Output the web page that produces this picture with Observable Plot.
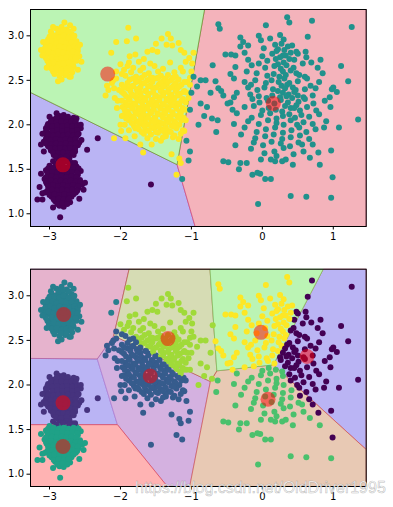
<!DOCTYPE html>
<html>
<head>
<meta charset="utf-8">
<script src="https://cdn.jsdelivr.net/npm/d3@7"></script>
<script src="https://cdn.jsdelivr.net/npm/@observablehq/plot@0.6"></script>
<style>
  html, body { margin: 0; padding: 0; background: white; }
  #wrap { position: relative; width: 393px; height: 507px; overflow: hidden; }
  #wrap svg { display: block; }
  #wm { position: absolute; left: 0; top: 0; pointer-events: none; }
</style>
</head>
<body>
<div id="wrap"></div>
<script>
// ---------- data ----------
const xTicks = [-3, -2, -1, 0, 1];
const yTicks = [1.0, 1.5, 2.0, 2.5, 3.0];
const xDomain = [-3.268, 1.464];

const yellowLeftBlob = [
[-2.9,3.08],[-2.83,3.1],[-2.76,3.07],[-2.79,3.15],[-2.71,3.12],[-2.66,3.08],[-2.98,3.05],
[-2.97,3.02],[-2.9,3.01],[-2.84,3.03],[-2.77,3.0],[-2.69,3.02],
[-3.02,2.96],[-2.95,2.97],[-2.88,2.95],[-2.81,2.97],[-2.74,2.95],[-2.67,2.96],[-2.62,2.94],
[-3.05,2.9],[-2.98,2.91],[-2.91,2.89],[-2.84,2.91],[-2.77,2.9],[-2.7,2.89],[-2.63,2.9],
[-3.08,2.84],[-3.0,2.85],[-2.93,2.83],[-2.86,2.85],[-2.79,2.84],[-2.72,2.83],[-2.65,2.85],[-2.6,2.83],
[-3.06,2.78],[-2.99,2.79],[-2.92,2.77],[-2.85,2.79],[-2.78,2.78],[-2.71,2.77],[-2.64,2.79],[-2.58,2.77],
[-3.03,2.72],[-2.96,2.73],[-2.89,2.71],[-2.82,2.72],[-2.75,2.73],[-2.68,2.71],[-2.62,2.72],
[-3.0,2.66],[-2.93,2.67],[-2.86,2.65],[-2.79,2.66],[-2.72,2.67],[-2.66,2.65],
[-2.95,2.6],[-2.88,2.61],[-2.81,2.6],[-2.74,2.61],[-2.68,2.59],
[-2.86,2.55],[-2.78,2.56],[-2.72,2.54],
[-2.87,3.05],[-2.8,3.06],[-2.73,3.05],
[-3.0,2.99],[-2.93,2.99],[-2.86,2.98],[-2.8,3.0],[-2.73,2.98],[-2.66,2.99],
[-3.04,2.93],[-2.96,2.94],[-2.9,2.92],[-2.83,2.94],[-2.76,2.92],[-2.69,2.93],[-2.62,2.91],
[-3.06,2.87],[-2.99,2.88],[-2.93,2.86],[-2.86,2.88],[-2.79,2.87],[-2.72,2.86],[-2.65,2.88],[-2.6,2.87],
[-3.07,2.81],[-3.01,2.82],[-2.95,2.8],[-2.88,2.82],[-2.81,2.81],[-2.74,2.8],[-2.67,2.82],[-2.61,2.8],
[-3.05,2.75],[-2.97,2.76],[-2.9,2.74],[-2.83,2.75],[-2.76,2.76],[-2.69,2.74],[-2.63,2.75],
[-3.01,2.69],[-2.94,2.7],[-2.87,2.68],[-2.8,2.69],[-2.73,2.7],[-2.67,2.68],
[-2.97,2.63],[-2.9,2.64],[-2.83,2.62],[-2.76,2.63],[-2.7,2.62],
[-2.84,2.58],[-2.76,2.58],
[-2.83,2.51],[-2.88,2.49],[-2.55,2.71],[-3.12,2.84],[-3.04,2.64],[-2.6,2.62],[-3.1,2.78],
[-2.7,2.54],[-2.93,2.57],[-2.57,2.9],[-3.09,2.93],[-2.95,3.1],[-2.65,3.0]
];

const purpleUpperBlob = [
[-2.86,2.1],[-2.8,2.11],[-2.9,2.13],
[-2.95,2.06],[-2.86,2.05],[-2.78,2.07],[-2.7,2.05],[-2.62,2.07],[-3.0,2.09],
[-3.02,2.01],[-2.94,2.02],[-2.87,2.0],[-2.8,2.02],[-2.73,2.0],[-2.66,2.01],
[-3.05,1.96],[-2.98,1.97],[-2.91,1.95],[-2.84,1.97],[-2.77,1.96],[-2.7,1.95],[-2.63,1.97],[-2.56,1.96],
[-3.06,1.91],[-2.99,1.9],[-2.92,1.92],[-2.85,1.9],[-2.78,1.91],[-2.71,1.9],[-2.64,1.92],[-2.59,1.9],
[-3.04,1.86],[-2.97,1.85],[-2.9,1.87],[-2.83,1.85],[-2.76,1.86],[-2.69,1.85],[-2.62,1.87],
[-3.08,1.81],[-3.0,1.8],[-2.93,1.82],[-2.86,1.8],[-2.79,1.81],[-2.72,1.8],[-2.65,1.82],[-2.58,1.8],
[-3.02,1.76],[-2.95,1.75],[-2.88,1.77],[-2.81,1.75],[-2.74,1.76],[-2.67,1.75],[-2.6,1.77],
[-2.98,1.71],[-2.91,1.7],[-2.84,1.72],[-2.77,1.7],[-2.7,1.71],[-2.64,1.7],
[-2.94,1.66],[-2.87,1.65],[-2.8,1.67],[-2.73,1.65],[-2.66,1.66],
[-2.88,1.62],[-2.8,1.61],[-2.72,1.62],
[-2.9,2.08],[-2.82,2.08],[-2.74,2.09],[-2.66,2.08],
[-2.98,2.04],[-2.9,2.03],[-2.83,2.04],[-2.76,2.03],[-2.69,2.04],[-2.63,2.03],
[-3.03,1.99],[-2.96,1.98],[-2.89,1.99],[-2.82,1.98],[-2.75,1.99],[-2.68,1.98],[-2.61,1.99],
[-3.04,1.94],[-2.96,1.93],[-2.89,1.94],[-2.82,1.93],[-2.75,1.94],[-2.68,1.93],[-2.61,1.94],
[-3.02,1.89],[-2.95,1.88],[-2.88,1.89],[-2.81,1.88],[-2.74,1.89],[-2.67,1.88],[-2.6,1.89],
[-3.05,1.84],[-2.98,1.83],[-2.91,1.84],[-2.84,1.83],[-2.77,1.84],[-2.7,1.83],[-2.63,1.84],
[-3.05,1.79],[-2.98,1.78],[-2.91,1.79],[-2.84,1.78],[-2.77,1.79],[-2.7,1.78],[-2.63,1.79],
[-2.99,1.74],[-2.92,1.73],[-2.85,1.74],[-2.78,1.73],[-2.71,1.74],[-2.64,1.73],
[-2.95,1.69],[-2.88,1.68],[-2.81,1.69],[-2.74,1.68],[-2.67,1.69],
[-2.91,1.64],[-2.84,1.63],[-2.76,1.64],
[-2.32,1.85],[-2.47,1.72],[-2.56,2.0],[-3.1,1.9],[-3.12,1.78],[-2.55,1.83],[-3.08,1.7]
];

const purpleLowerBlob = [
[-2.95,1.59],[-2.85,1.58],[-2.76,1.59],[-2.68,1.57],
[-3.0,1.54],[-2.92,1.53],[-2.84,1.54],[-2.77,1.52],[-2.7,1.54],[-2.62,1.53],
[-3.05,1.49],[-2.97,1.48],[-2.9,1.5],[-2.83,1.48],[-2.76,1.49],[-2.69,1.47],[-2.62,1.49],[-2.56,1.48],
[-3.02,1.44],[-2.95,1.43],[-2.88,1.45],[-2.81,1.43],[-2.74,1.44],[-2.67,1.42],[-2.6,1.44],
[-3.07,1.39],[-3.0,1.38],[-2.93,1.4],[-2.86,1.38],[-2.79,1.39],[-2.72,1.37],[-2.65,1.39],[-2.57,1.38],
[-3.04,1.34],[-2.97,1.33],[-2.9,1.35],[-2.83,1.33],[-2.76,1.34],[-2.69,1.32],[-2.62,1.34],[-2.54,1.33],
[-3.01,1.29],[-2.94,1.28],[-2.87,1.3],[-2.8,1.28],[-2.73,1.29],[-2.66,1.27],[-2.59,1.29],
[-3.06,1.24],[-2.98,1.23],[-2.91,1.25],[-2.84,1.23],[-2.77,1.24],[-2.7,1.22],[-2.63,1.24],
[-2.97,1.19],[-2.9,1.18],[-2.83,1.2],[-2.76,1.18],[-2.69,1.19],
[-2.92,1.14],[-2.85,1.13],[-2.78,1.15],[-2.71,1.13],
[-2.86,1.09],[-2.8,1.08],
[-2.9,1.56],[-2.81,1.57],[-2.72,1.56],[-2.64,1.57],
[-3.02,1.51],[-2.94,1.52],[-2.87,1.51],[-2.8,1.52],[-2.73,1.51],[-2.66,1.52],[-2.59,1.51],
[-3.03,1.46],[-2.96,1.47],[-2.89,1.46],[-2.82,1.47],[-2.75,1.46],[-2.68,1.47],[-2.61,1.46],
[-3.05,1.41],[-2.97,1.42],[-2.9,1.41],[-2.83,1.42],[-2.76,1.41],[-2.69,1.42],[-2.62,1.41],
[-3.05,1.36],[-2.98,1.37],[-2.91,1.36],[-2.84,1.37],[-2.77,1.36],[-2.7,1.37],[-2.63,1.36],[-2.57,1.36],
[-3.02,1.31],[-2.95,1.32],[-2.88,1.31],[-2.81,1.32],[-2.74,1.31],[-2.67,1.32],[-2.6,1.31],
[-3.03,1.26],[-2.96,1.27],[-2.89,1.26],[-2.82,1.27],[-2.75,1.26],[-2.68,1.27],[-2.61,1.26],
[-3.0,1.21],[-2.93,1.22],[-2.86,1.21],[-2.79,1.22],[-2.72,1.21],[-2.66,1.22],
[-2.94,1.16],[-2.87,1.17],[-2.8,1.16],[-2.73,1.17],
[-2.89,1.11],[-2.82,1.12],[-2.75,1.11],
[-3.17,1.16],[-3.1,1.16],[-3.1,1.23],[-2.85,0.96],[-2.5,1.35],[-2.52,1.27],[-3.12,1.45],
[-2.58,1.17],[-2.95,1.07],[-1.57,1.33],[-3.14,1.3]
];

const yellowMainCloud = [
[-1.89,3.09],[-2.06,2.93],[-1.91,2.94],[-1.78,2.97],[-2.13,2.81],[-1.33,3.02],[-1.5,2.91],
[-1.35,2.9],[-1.18,2.92],[-1.62,2.82],[-1.55,2.84],[-1.48,2.82],[-1.79,2.79],[-1.87,2.77],
[-1.67,2.74],[-1.88,2.7],[-1.1,2.81],[-0.97,2.81],[-2.0,2.68],[-1.95,2.62],[-1.98,2.57],
[-1.82,2.64],[-2.19,2.44],[-2.17,2.39],[-2.21,2.33],[-2.09,2.41],[-2.04,2.27],[-2.05,2.19],
[-2.09,1.85],[-1.93,1.85],[-1.8,1.87],[-1.88,1.94],[-1.79,1.96],[-1.72,1.78],[-1.68,1.69],
[-1.56,1.78],[-1.43,1.82],[-1.36,1.87],[-1.26,1.86],[-1.28,1.67],[-1.15,1.57],[-1.21,1.44],
[-1.17,1.62],[-1.42,2.97],[-1.29,2.97],[-1.27,2.89],[-1.15,2.84],[-1.03,2.75],[-0.99,2.69],
[-1.0,2.6],[-1.02,2.45],[-1.04,2.3],[-1.08,2.05],[-1.1,1.93],[-2.12,2.47],[-2.06,2.52],
[-2.0,2.0],[-1.95,2.11],[-1.99,1.93],
[-1.74,2.71],[-1.58,2.69],[-1.3,2.7],[-1.08,2.71],
[-1.9,2.66],[-1.68,2.64],[-1.52,2.66],[-1.4,2.63],[-1.15,2.64],
[-2.06,2.6],[-1.85,2.59],[-1.72,2.61],[-1.6,2.58],[-1.47,2.6],[-1.24,2.59],[-1.12,2.6],
[-1.93,2.55],[-1.78,2.54],[-1.66,2.56],[-1.55,2.53],[-1.43,2.55],[-1.33,2.56],[-1.22,2.54],[-1.02,2.53],
[-2.1,2.5],[-1.87,2.51],[-1.74,2.49],[-1.62,2.5],[-1.5,2.52],[-1.4,2.49],[-1.29,2.5],[-1.18,2.51],[-1.06,2.48],
[-1.98,2.45],[-1.82,2.44],[-1.7,2.46],[-1.58,2.44],[-1.46,2.45],[-1.35,2.46],[-1.25,2.44],[-1.14,2.45],
[-2.02,2.39],[-1.9,2.41],[-1.77,2.4],[-1.65,2.38],[-1.54,2.41],[-1.43,2.39],[-1.32,2.4],[-1.2,2.41],[-1.1,2.38],
[-1.95,2.35],[-1.84,2.34],[-1.72,2.36],[-1.6,2.35],[-1.5,2.33],[-1.39,2.36],[-1.28,2.34],[-1.16,2.35],[-1.06,2.36],
[-2.08,2.3],[-1.88,2.29],[-1.78,2.31],[-1.67,2.3],[-1.56,2.28],[-1.45,2.31],[-1.35,2.29],[-1.24,2.3],[-1.12,2.29],
[-1.93,2.25],[-1.82,2.24],[-1.7,2.26],[-1.6,2.24],[-1.5,2.25],[-1.41,2.23],[-1.3,2.26],[-1.2,2.24],[-1.08,2.25],
[-1.97,2.2],[-1.86,2.21],[-1.75,2.19],[-1.64,2.2],[-1.54,2.21],[-1.44,2.19],[-1.34,2.2],[-1.23,2.21],[-1.12,2.19],
[-1.9,2.15],[-1.79,2.14],[-1.68,2.16],[-1.58,2.15],[-1.48,2.13],[-1.38,2.16],[-1.27,2.14],[-1.16,2.15],[-1.07,2.17],
[-1.98,2.1],[-1.84,2.09],[-1.73,2.11],[-1.62,2.1],[-1.52,2.08],[-1.42,2.11],[-1.31,2.09],[-1.2,2.1],[-1.11,2.08],
[-1.88,2.05],[-1.77,2.04],[-1.66,2.06],[-1.56,2.05],[-1.46,2.03],[-1.35,2.06],[-1.24,2.04],[-1.14,2.05],
[-1.94,2.0],[-1.81,1.99],[-1.7,2.01],[-1.6,2.0],[-1.5,1.98],[-1.39,2.01],[-1.28,1.99],[-1.17,2.0],
[-1.74,1.95],[-1.64,1.94],[-1.53,1.96],[-1.43,1.95],[-1.32,1.93],[-1.21,1.96],[-1.12,1.94],
[-1.67,1.9],[-1.57,1.89],[-1.47,1.91],[-1.36,1.9],[-1.24,1.88],[-1.15,1.9],
[-1.62,1.85],[-1.5,1.84],[-1.4,1.86],[-1.18,1.84],
[-1.82,2.52],[-1.7,2.53],[-1.58,2.52],[-1.47,2.53],[-1.37,2.52],[-1.26,2.53],
[-1.9,2.47],[-1.78,2.48],[-1.66,2.47],[-1.55,2.48],[-1.44,2.47],[-1.33,2.48],[-1.22,2.47],[-1.1,2.48],
[-1.95,2.42],[-1.84,2.43],[-1.72,2.42],[-1.61,2.43],[-1.5,2.42],[-1.39,2.43],[-1.28,2.42],[-1.17,2.43],
[-1.98,2.37],[-1.86,2.38],[-1.76,2.37],[-1.64,2.38],[-1.54,2.37],[-1.43,2.38],[-1.33,2.37],[-1.22,2.38],[-1.11,2.37],
[-1.92,2.32],[-1.82,2.33],[-1.71,2.32],[-1.61,2.33],[-1.51,2.32],[-1.4,2.33],[-1.3,2.32],[-1.19,2.33],
[-1.98,2.27],[-1.87,2.28],[-1.76,2.27],[-1.65,2.28],[-1.55,2.27],[-1.45,2.28],[-1.35,2.27],[-1.25,2.28],[-1.14,2.27],
[-1.9,2.22],[-1.79,2.23],[-1.69,2.22],[-1.59,2.23],[-1.49,2.22],[-1.39,2.23],[-1.28,2.22],[-1.17,2.23],
[-1.94,2.17],[-1.83,2.18],[-1.72,2.17],[-1.62,2.18],[-1.53,2.17],[-1.43,2.18],[-1.32,2.17],[-1.21,2.18],[-1.11,2.17],
[-1.88,2.12],[-1.78,2.13],[-1.68,2.12],[-1.57,2.13],[-1.47,2.12],[-1.37,2.13],[-1.26,2.12],[-1.15,2.13],
[-1.92,2.07],[-1.81,2.08],[-1.71,2.07],[-1.61,2.08],[-1.51,2.07],[-1.4,2.08],[-1.29,2.07],[-1.18,2.08],
[-1.84,2.02],[-1.74,2.03],[-1.64,2.02],[-1.53,2.03],[-1.43,2.02],[-1.32,2.03],[-1.22,2.02],
[-1.76,1.97],[-1.66,1.98],[-1.56,1.97],[-1.46,1.98],[-1.36,1.97],[-1.25,1.98],
[-1.7,1.92],[-1.6,1.93],[-1.5,1.92],[-1.4,1.93],[-1.29,1.92]
];

const tealCloud = [
[-0.62,3.13],[-0.6,3.08],[0.05,3.12],[0.35,3.21],[0.38,3.15],[0.7,3.17],[1.26,3.1],[-0.05,3.0],
[0.11,2.97],[0.25,3.01],[0.64,2.99],[-0.31,2.98],[-0.31,2.88],[-0.2,2.89],[-0.27,2.93],
[-0.44,2.79],[-0.38,2.78],[-0.52,2.79],[-0.7,2.67],[-0.87,2.5],[-0.8,2.5],[-0.97,2.54],[-0.92,2.43],
[-1.0,2.36],[-0.87,2.24],[-1.02,2.17],[-0.82,2.1],[-0.71,2.07],[-0.63,2.05],[-0.73,2.36],[-0.58,2.38],
[-0.49,2.24],[-1.07,1.82],[-1.02,1.7],[-1.04,1.6],[-1.13,1.39],[-0.55,1.59],[-0.48,1.58],[-0.33,1.5],
[-0.31,1.57],[-0.22,1.57],[-0.14,1.44],[-0.07,1.46],[-0.03,1.45],[0.04,1.39],[0.12,1.39],[-0.06,1.11],
[0.4,1.2],[0.62,1.19],[0.97,1.18],[0.99,1.41],[0.81,1.55],[0.97,1.71],[1.08,1.97],[1.35,2.06],
[1.21,2.49],[1.11,2.66],[1.05,2.37],[0.98,2.4],[0.82,2.73],[0.69,2.7],[0.48,2.82],[0.61,2.82],
[0.43,1.55],[0.28,1.59],[0.18,1.59],[0.12,1.61],[0.67,1.63],[0.44,1.67],[0.56,1.78],[0.71,1.78],
[0.79,1.69],[0.87,1.97],[0.96,2.2],[-0.78,2.2],[-0.9,2.0],[-0.65,1.92],
[-0.02,2.95],[0.18,2.9],[0.3,2.96],[0.36,2.88],[0.27,2.91],[0.22,2.85],[0.42,2.89],
[-0.25,2.81],[0.02,2.86],[0.14,2.8],[0.2,2.83],[0.31,2.84],[0.5,2.8],[0.29,2.78],[0.4,2.81],[0.25,2.76],
[-0.2,2.73],[0.0,2.77],[0.07,2.72],[0.19,2.74],[0.33,2.78],[0.45,2.73],[0.62,2.76],
[0.3,2.7],[0.38,2.74],[0.22,2.68],[-0.05,2.69],
[-0.38,2.65],[-0.15,2.67],[0.04,2.64],[0.17,2.66],[0.26,2.63],[0.34,2.67],[0.44,2.64],[0.57,2.69],[0.78,2.64],
[0.29,2.6],[0.4,2.61],[0.48,2.58],[-0.22,2.6],
[-0.45,2.57],[-0.08,2.58],[0.07,2.55],[0.16,2.57],[0.24,2.54],[0.33,2.56],[0.52,2.56],[0.6,2.54],[0.85,2.58],
[-0.66,2.49],[-0.4,2.52],[-0.25,2.48],[-0.1,2.5],[0.05,2.47],[0.13,2.5],[0.23,2.48],[0.31,2.52],[0.38,2.47],[0.5,2.49],[0.63,2.52],[0.8,2.48],
[0.27,2.44],[0.35,2.45],[0.43,2.42],[-0.16,2.45],[0.68,2.44],
[-0.62,2.41],[-0.2,2.42],[-0.07,2.39],[0.03,2.42],[0.15,2.4],[0.22,2.38],[0.32,2.41],[0.47,2.39],[0.6,2.4],[0.75,2.41],[1.0,2.42],
[0.29,2.36],[0.37,2.34],[0.45,2.37],[-0.36,2.36],
[-0.55,2.33],[-0.4,2.31],[-0.17,2.34],[-0.05,2.32],[0.06,2.3],[0.14,2.33],[0.25,2.31],[0.34,2.32],[0.42,2.3],[0.5,2.33],[0.58,2.31],[0.71,2.33],[0.95,2.31],
[-0.45,2.25],[-0.14,2.29],[-0.04,2.25],[0.08,2.27],[0.17,2.24],[0.26,2.28],[0.36,2.25],[0.51,2.26],[0.6,2.29],[0.72,2.24],[0.88,2.27],
[0.32,2.21],[0.4,2.19],[0.48,2.22],[-0.25,2.2],
[-0.42,2.17],[-0.12,2.21],[0.0,2.16],[0.09,2.19],[0.19,2.17],[0.28,2.15],[0.45,2.19],[0.53,2.16],[0.63,2.2],[0.76,2.16],
[-0.36,2.13],[-0.15,2.08],[-0.02,2.11],[0.11,2.13],[0.2,2.07],[0.29,2.1],[0.38,2.12],[0.46,2.08],[0.55,2.11],[0.66,2.09],[0.8,2.12],
[-0.4,2.01],[-0.2,2.04],[-0.05,2.01],[0.08,2.05],[0.2,2.02],[0.3,2.0],[0.4,2.05],[0.49,2.0],[0.58,2.03],[0.71,2.01],[0.9,2.04],
[-0.25,1.97],[-0.08,1.92],[0.05,1.95],[0.18,1.97],[0.29,1.91],[0.41,1.94],[0.52,1.97],[0.62,1.92],[0.75,1.95],
[-0.3,1.89],[-0.1,1.85],[0.04,1.87],[0.16,1.89],[0.28,1.84],[0.4,1.86],[0.53,1.88],[0.66,1.84],
[-0.38,1.77],[-0.12,1.8],[0.01,1.77],[0.13,1.81],[0.26,1.79],[0.39,1.76],[0.51,1.8],
[-0.16,1.73],[0.03,1.68],[0.17,1.7],[0.3,1.74],[0.58,1.7],
[-0.02,1.61],[0.2,1.65],[0.33,1.61]
];

// k = 3 (top) centroids, point colours and region colours
const topCenters = [[-2.81, 1.55], [0.155, 2.24], [-2.18, 2.57]];
const topPointColors = ["#440154", "#21918c", "#fde725"];
const topRegionFill = ["#bab4f4", "#f4b3bb", "#bbf4b4"];
const topRegionStroke = ["#b050c0", "#d0507a", "#6c9a30"];
const topYDomain = [0.857, 3.296];

// k = 8 (bottom) centroids, point colours and region colours
const bottomCenters = [[0.63, 2.32], [-2.81, 1.80], [-1.58, 2.10], [-2.80, 2.79],
                       [-2.81, 1.31], [0.08, 1.84], [-1.33, 2.52], [-0.02, 2.59]];
const bottomPointColors = ["#440154", "#46337e", "#365c8d", "#277f8e",
                           "#1fa187", "#4ac16d", "#a0da39", "#fde725"];
const bottomRegionFill = ["#bab4f4", "#bab4f4", "#d4b1e0", "#e6b3cd",
                          "#ffb3b3", "#e8c9b4", "#d6dcb4", "#bbf4b4"];
const bottomRegionStroke = ["#c04a70", "#9a78e0", "#b080d0", "#b060a0",
                            "#e04a5a", "#d05a5a", "#c0604a", "#80c060"];
const bottomYDomain = [0.862, 3.298];

const watermark = "https://blog.csdn.net/OldDriver1995";

// ---------- drawing ----------
const points = [...yellowLeftBlob, ...purpleUpperBlob, ...purpleLowerBlob, ...yellowMainCloud, ...tealCloud];

function nearest(x, y, centers) {
  let best = 0, bd = Infinity;
  centers.forEach(([cx, cy], i) => {
    const d = (x - cx) ** 2 + (y - cy) ** 2;
    if (d < bd) { bd = d; best = i; }
  });
  return best;
}

function chart({centers, pointColors, regionFill, regionStroke, yDomain, height, marginTop, marginBottom}) {
  const labeled = points.map(([x, y]) => ({x, y, k: nearest(x, y, centers)}));
  const cells = centers.map(([x, y], i) => ({x, y, i}));
  return Plot.plot({
    width: 393,
    height,
    marginLeft: 30,
    marginRight: 27.3,
    marginTop,
    marginBottom,
    x: {domain: xDomain, ticks: xTicks, tickFormat: d3.format("d"), tickSize: 3.5, tickPadding: 3, label: null},
    y: {domain: yDomain, ticks: yTicks, tickFormat: d3.format(".1f"), tickSize: 3.5, tickPadding: 3, label: null},
    color: {type: "identity"},
    style: {fontFamily: "DejaVu Sans", fontSize: "10px", color: "black", background: "white", overflow: "visible"},
    marks: [
      Plot.voronoi(cells, {x: "x", y: "y", fill: d => regionFill[d.i], stroke: d => regionStroke[d.i], strokeWidth: 0.8}),
      Plot.dot(labeled, {x: "x", y: "y", r: 3, fill: d => pointColors[d.k]}),
      Plot.dot(cells, {x: "x", y: "y", r: 7.5, fill: "red", fillOpacity: 0.5}),
      Plot.frame({stroke: "black", strokeWidth: 1})
    ]
  });
}

const wrap = document.getElementById("wrap");
wrap.appendChild(chart({
  centers: topCenters, pointColors: topPointColors, regionFill: topRegionFill, regionStroke: topRegionStroke,
  yDomain: topYDomain, height: 250, marginTop: 9, marginBottom: 24
}));
wrap.appendChild(chart({
  centers: bottomCenters, pointColors: bottomPointColors, regionFill: bottomRegionFill, regionStroke: bottomRegionStroke,
  yDomain: bottomYDomain, height: 257, marginTop: 18.7, marginBottom: 21
}));

// watermark overlay (real text)
const ns = "http://www.w3.org/2000/svg";
const wm = document.createElementNS(ns, "svg");
wm.setAttribute("id", "wm");
wm.setAttribute("width", 393);
wm.setAttribute("height", 507);
const t = document.createElementNS(ns, "text");
t.setAttribute("x", 135);
t.setAttribute("y", 493);
t.setAttribute("font-family", "Liberation Sans, Arial, sans-serif");
t.setAttribute("font-size", "16");
t.setAttribute("fill", "rgba(255,255,255,0.85)");
t.setAttribute("stroke", "rgba(110,110,110,0.45)");
t.setAttribute("stroke-width", "0.6");
t.textContent = watermark;
wm.appendChild(t);
wrap.appendChild(wm);
</script>
</body>
</html>
